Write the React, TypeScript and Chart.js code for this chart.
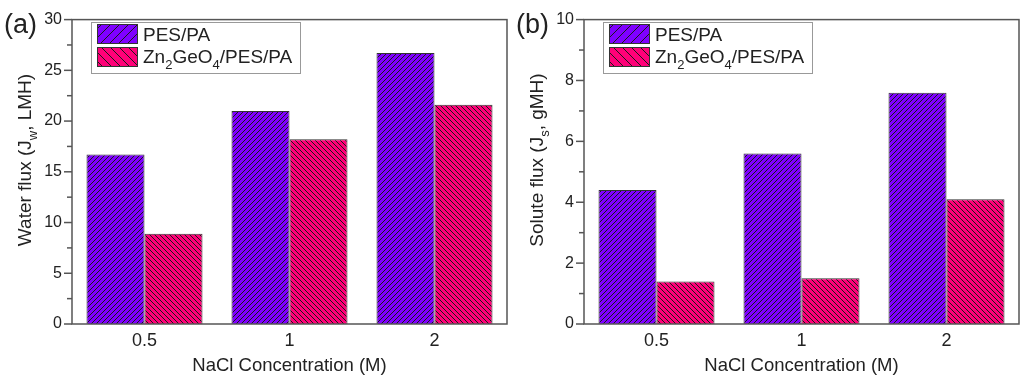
import React, { useEffect, useRef } from 'react';
import { Chart, registerables } from 'chart.js';
Chart.register(...registerables);

const categories = ['0.5', '1', '2'];
const waterPES = [16.7, 21.0, 26.7];
const waterZn = [8.9, 18.2, 21.6];
const solutePES = [4.4, 5.6, 7.6];
const soluteZn = [1.4, 1.5, 4.1];
const waterAxis = { max: 30, step: 2.5, labelStep: 5 };
const soluteAxis = { max: 10, step: 1, labelStep: 2 };
const xTitle = 'NaCl Concentration (M)';
type Part = [string, number];
const legendPES: Part[] = [['PES/PA', 0]];
const legendZn: Part[] = [['Zn', 0], ['2', 1], ['GeO', 0], ['4', 1], ['/PES/PA', 0]];
const waterTitle: Part[] = [['Water flux (J', 0], ['w', 1], [', LMH)', 0]];
const soluteTitle: Part[] = [['Solute flux (J', 0], ['s', 1], [', gMH)', 0]];

const PURPLE = '#7F00FF';
const PINK = '#FF0078';
const FONT = '"Liberation Sans", Arial, sans-serif';
const TEXT = '#222';

function makeHatch(ctx: CanvasRenderingContext2D, color: string, dir: string, size: number) {
  const c = document.createElement('canvas');
  c.width = size;
  c.height = size;
  const g = c.getContext('2d')!;
  g.fillStyle = color;
  g.fillRect(0, 0, size, size);
  g.strokeStyle = '#1a1a1a';
  g.lineWidth = 1;
  g.beginPath();
  for (const k of [-size, 0, size]) {
    if (dir === '/') {
      g.moveTo(k, size);
      g.lineTo(k + size, 0);
    } else {
      g.moveTo(k, 0);
      g.lineTo(k + size, size);
    }
  }
  g.stroke();
  return ctx.createPattern(c, 'repeat')!;
}

function drawRich(ctx: CanvasRenderingContext2D, parts: Part[], x: number, y: number, size: number, align: 'left' | 'center') {
  const subSize = Math.round(size * 0.66);
  let total = 0;
  const widths = parts.map(([t, s]) => {
    ctx.font = `${s ? subSize : size}px ${FONT}`;
    const w = ctx.measureText(t).width;
    total += w;
    return w;
  });
  let cx = align === 'center' ? x - total / 2 : x;
  ctx.textAlign = 'left';
  ctx.textBaseline = 'alphabetic';
  parts.forEach(([t, s], i) => {
    ctx.font = `${s ? subSize : size}px ${FONT}`;
    ctx.fillText(t, cx, y + (s ? size * 0.3 : 0));
    cx += widths[i];
  });
}

interface PanelProps {
  label: string;
  a: number[];
  b: number[];
  axis: { max: number; step: number; labelStep: number };
  yTitle: Part[];
}

function Panel({ label, a, b, axis, yTitle }: PanelProps) {
  const ref = useRef<HTMLCanvasElement>(null);
  useEffect(() => {
    const canvas = ref.current!;
    const ctx = canvas.getContext('2d')!;
    const patA = makeHatch(ctx, PURPLE, '/', 5);
    const patB = makeHatch(ctx, PINK, '\\', 5);
    const legA = makeHatch(ctx, PURPLE, '/', 9);
    const legB = makeHatch(ctx, PINK, '\\', 9);
    const isLabel = (v: number) => Math.abs(v / axis.labelStep - Math.round(v / axis.labelStep)) < 1e-6;

    const deco = {
      id: 'deco',
      afterDraw(chart: any) {
        const c = chart.ctx as CanvasRenderingContext2D;
        const { left, right, top, bottom } = chart.chartArea;
        const y = chart.scales.y;
        c.save();
        // ticks
        c.strokeStyle = '#555';
        c.lineWidth = 1.5;
        y.ticks.forEach((t: any) => {
          const py = y.getPixelForValue(t.value);
          const len = isLabel(t.value) ? 8 : 5;
          c.beginPath();
          c.moveTo(left - len, py);
          c.lineTo(left, py);
          c.stroke();
        });
        // frame
        c.strokeRect(left, top, right - left, bottom - top);
        // y title
        c.fillStyle = TEXT;
        c.save();
        c.translate(31, 160);
        c.rotate(-Math.PI / 2);
        drawRich(c, yTitle, 0, 0, 19, 'center');
        c.restore();
        // x title
        c.font = `18.5px ${FONT}`;
        c.textAlign = 'center';
        c.textBaseline = 'middle';
        c.fillText(xTitle, (left + right) / 2, 366);
        // panel label
        c.font = `27px ${FONT}`;
        c.textAlign = 'left';
        c.fillText(label, 4, 26);
        // legend
        c.fillStyle = '#fff';
        c.fillRect(91, 22, 210, 51);
        c.strokeStyle = '#999';
        c.lineWidth = 1;
        c.strokeRect(91.5, 22.5, 209, 51);
        c.strokeStyle = '#333';
        c.fillStyle = legA;
        c.fillRect(97, 24, 41, 20);
        c.strokeRect(97.5, 24.5, 40, 19);
        c.fillStyle = legB;
        c.fillRect(97, 47, 41, 20);
        c.strokeRect(97.5, 47.5, 40, 19);
        c.fillStyle = TEXT;
        drawRich(c, legendPES, 143, 41, 19, 'left');
        drawRich(c, legendZn, 143, 63, 19, 'left');
        c.restore();
      },
    };

    const chart = new Chart(canvas, {
      type: 'bar',
      data: {
        labels: categories,
        datasets: [
          { label: 'PES/PA', data: a, backgroundColor: patA, borderColor: '#333', borderWidth: 1, categoryPercentage: 0.8, barPercentage: 1.0 },
          { label: 'Zn2GeO4/PES/PA', data: b, backgroundColor: patB, borderColor: '#333', borderWidth: 1, categoryPercentage: 0.8, barPercentage: 1.0 },
        ],
      },
      options: {
        responsive: false,
        animation: false,
        layout: { padding: { left: 0, right: 5, top: 10, bottom: 0 } },
        plugins: { legend: { display: false }, tooltip: { enabled: false } },
        scales: {
          x: {
            grid: { display: false, drawTicks: false },
            border: { display: false },
            ticks: { color: TEXT, font: { family: FONT, size: 18 }, padding: 6 },
            afterFit: (s: any) => { s.height = 60; },
          },
          y: {
            min: 0,
            max: axis.max,
            grid: { display: false, drawTicks: false },
            border: { display: false },
            ticks: {
              stepSize: axis.step,
              autoSkip: false,
              color: TEXT,
              font: { family: FONT, size: 16 },
              padding: 10,
              callback: (v: any) => (isLabel(Number(v)) ? String(v) : ''),
            },
            afterFit: (s: any) => { s.width = 72; },
          },
        },
      },
      plugins: [deco],
    });
    return () => chart.destroy();
  }, []);
  return <canvas ref={ref} width={512} height={384} style={{ display: 'block', width: 512, height: 384 }} />;
}

export default function App() {
  return (
    <div style={{ position: 'absolute', left: 0, top: 0, width: 1024, height: 384, display: 'flex', background: '#fff' }}>
      <Panel label="(a)" a={waterPES} b={waterZn} axis={waterAxis} yTitle={waterTitle} />
      <Panel label="(b)" a={solutePES} b={soluteZn} axis={soluteAxis} yTitle={soluteTitle} />
    </div>
  );
}
